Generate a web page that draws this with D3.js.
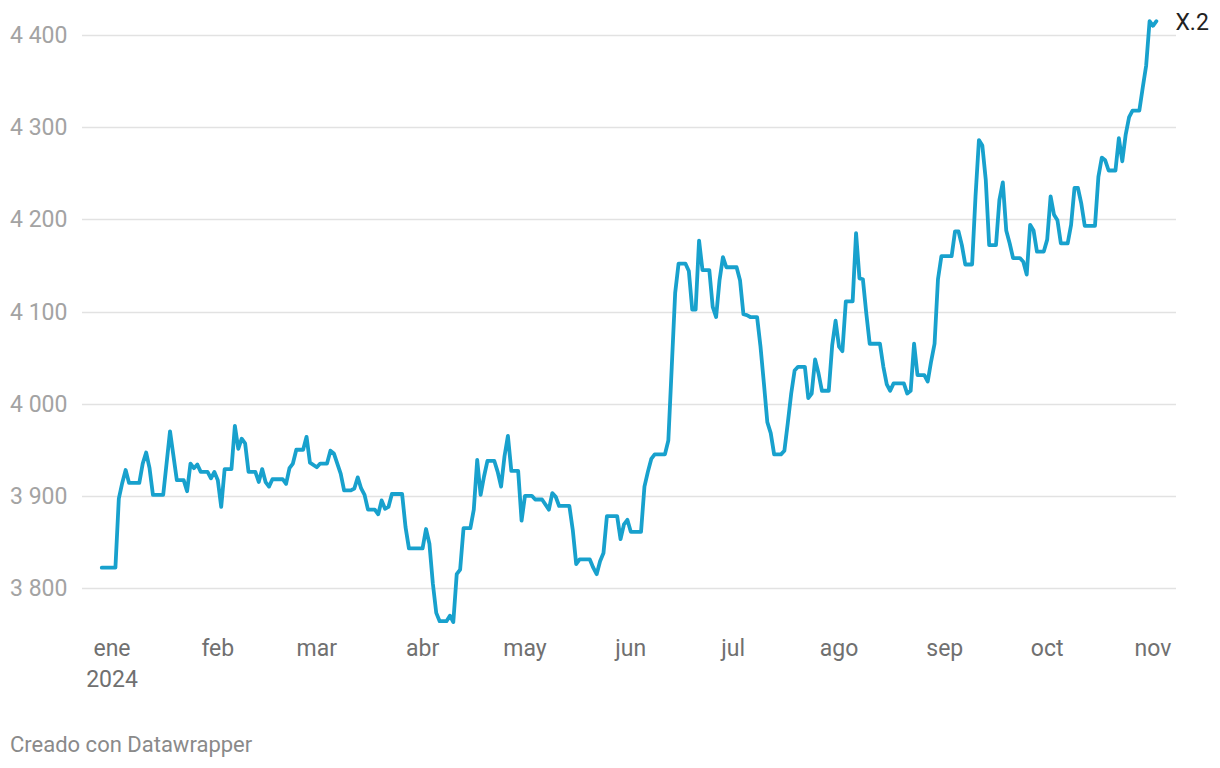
<!DOCTYPE html>
<html>
<head>
<meta charset="utf-8">
<script src="https://cdn.jsdelivr.net/npm/d3@7"></script>
<style>
  html, body { margin: 0; padding: 0; background: #ffffff; }
  svg { display: block; font-family: Roboto, "Noto Sans", sans-serif; }
</style>
</head>
<body>
<svg id="chart" width="1220" height="768"></svg>
<script>
// Days counted from 1 January 2024 (negative = late December 2023)
const daysFromJan1 = [
  -3, 1, 2, 3, 4, 5, 8, 9, 10, 11,
  12, 15, 17, 19, 21, 22, 23, 24, 25, 26,
  28, 29, 30, 31, 32, 33, 35, 36, 37, 38,
  39, 40, 42, 43, 44, 45, 46, 47, 50, 51,
  52, 53, 54, 56, 57, 58, 60, 61, 63, 64,
  65, 67, 68, 70, 71, 72, 73, 74, 75, 77,
  78, 79, 80, 81, 82, 85, 86, 87, 91, 92,
  93, 94, 95, 96, 98, 99, 100, 101, 102, 103,
  105, 106, 107, 108, 109, 110, 112, 113, 114, 115,
  116, 117, 119, 120, 121, 123, 124, 126, 128, 129,
  130, 131, 134, 135, 136, 137, 140, 141, 142, 143,
  144, 145, 148, 149, 150, 151, 152, 155, 156, 157,
  158, 159, 162, 163, 164, 165, 166, 168, 169, 170,
  171, 172, 173, 175, 176, 177, 178, 179, 180, 183,
  184, 185, 186, 187, 189, 190, 191, 192, 193, 194,
  196, 197, 198, 199, 200, 201, 203, 204, 205, 206,
  207, 208, 210, 211, 212, 213, 214, 215, 217, 218,
  219, 220, 221, 222, 225, 226, 227, 228, 229, 232,
  233, 234, 235, 236, 238, 239, 240, 241, 242, 243,
  246, 247, 248, 249, 250, 252, 253, 254, 255, 256,
  257, 259, 260, 261, 262, 263, 264, 266, 267, 268,
  269, 270, 271, 273, 274, 275, 276, 277, 278, 280,
  281, 282, 283, 284, 285, 288, 289, 290, 291, 292,
  294, 295, 296, 297, 298, 299, 301, 302, 303, 304,
  305, 306
];
const values = [
  3822, 3822, 3897, 3914, 3928, 3914, 3914, 3935, 3947, 3930,
  3901, 3901, 3970, 3917, 3917, 3905, 3935, 3930, 3934, 3926,
  3926, 3919, 3926, 3917, 3888, 3929, 3929, 3976, 3951, 3962,
  3957, 3926, 3926, 3915, 3929, 3915, 3910, 3918, 3918, 3913,
  3930, 3935, 3950, 3950, 3964, 3936, 3931, 3935, 3935, 3949,
  3946, 3924, 3906, 3906, 3908, 3920, 3908, 3901, 3885, 3885,
  3880, 3895, 3886, 3888, 3902, 3902, 3866, 3843, 3843, 3864,
  3848, 3805, 3773, 3764, 3764, 3770, 3763, 3815, 3820, 3865,
  3865, 3885, 3939, 3901, 3921, 3938, 3938, 3926, 3910, 3943,
  3965, 3927, 3927, 3873, 3900, 3900, 3896, 3896, 3885, 3903,
  3899, 3889, 3889, 3863, 3826, 3831, 3831, 3822, 3815, 3829,
  3838, 3878, 3878, 3853, 3869, 3874, 3861, 3861, 3910, 3926,
  3940, 3945, 3945, 3960, 4040, 4120, 4152, 4152, 4144, 4102,
  4102, 4177, 4145, 4145, 4105, 4094, 4134, 4159, 4148, 4148,
  4134, 4097, 4096, 4094, 4094, 4062, 4022, 3980, 3968, 3945,
  3945, 3949, 3979, 4011, 4036, 4040, 4040, 4006, 4011, 4048,
  4033, 4014, 4014, 4063, 4090, 4062, 4057, 4111, 4111, 4185,
  4136, 4135, 4098, 4065, 4065, 4040, 4021, 4014, 4022, 4022,
  4011, 4014, 4065, 4031, 4031, 4024, 4046, 4065, 4135, 4160,
  4160, 4187, 4187, 4172, 4151, 4151, 4225, 4286, 4280, 4243,
  4172, 4172, 4221, 4240, 4188, 4174, 4158, 4158, 4154, 4140,
  4194, 4188, 4165, 4165, 4178, 4225, 4205, 4199, 4174, 4174,
  4194, 4234, 4234, 4217, 4193, 4193, 4246, 4267, 4264, 4253,
  4253, 4288, 4263, 4292, 4311, 4318, 4318, 4343, 4367, 4415,
  4410, 4415
];
const yTicks = [3800, 3900, 4000, 4100, 4200, 4300, 4400];
const monthLabels = ["ene", "feb", "mar", "abr", "may", "jun", "jul", "ago", "sep", "oct", "nov"];
const yearLabel = "2024";
const seriesName = "X.2";
const creditText = "Creado con Datawrapper";

const data = daysFromJan1.map((d, i) => ({ date: new Date(2024, 0, 1 + d), value: values[i] }));

const svg = d3.select("#chart");

const x = d3.scaleTime()
  .domain([new Date(2024, 0, 1), new Date(2024, 10, 1)])
  .range([112, 1153]);
const y = d3.scaleLinear().domain([3800, 4400]).range([588, 35]);

const fmt = d3.formatLocale({ decimal: ",", thousands: " ", grouping: [3], currency: ["", ""] }).format(",");

// gridlines
svg.append("g").selectAll("line").data(yTicks).join("line")
  .attr("x1", 82).attr("x2", 1176)
  .attr("y1", d => Math.round(y(d)) + 0.5).attr("y2", d => Math.round(y(d)) + 0.5)
  .attr("stroke", "#e2e2e2").attr("stroke-width", 1.3);

// y labels
svg.append("g").selectAll("text").data(yTicks).join("text")
  .attr("x", 10).attr("y", d => y(d) + 8)
  .attr("font-size", 23).attr("fill", "#a3a3a3")
  .text(d => fmt(d));

// x labels
const months = x.ticks(d3.timeMonth.every(1));
svg.append("g").selectAll("text").data(months).join("text")
  .attr("x", d => x(d)).attr("y", 656)
  .attr("text-anchor", "middle").attr("font-size", 23).attr("fill", "#707070")
  .text(d => monthLabels[d.getMonth()]);
svg.append("text")
  .attr("x", x(new Date(2024, 0, 1))).attr("y", 687)
  .attr("text-anchor", "middle").attr("font-size", 23).attr("fill", "#707070")
  .text(yearLabel);

// line
const line = d3.line().x(d => x(d.date)).y(d => y(d.value));
svg.append("path").datum(data)
  .attr("d", line)
  .attr("fill", "none").attr("stroke", "#18a1cd")
  .attr("stroke-width", 3.8).attr("stroke-linejoin", "round").attr("stroke-linecap", "round");

// series label
const last = data[data.length - 1];
svg.append("text")
  .attr("x", x(last.date) + 19).attr("y", y(last.value) + 8.5)
  .attr("font-size", 23).attr("fill", "#222222")
  .text(seriesName);

// credit
svg.append("text")
  .attr("x", 10).attr("y", 752)
  .attr("font-size", 22).attr("fill", "#8a8a8a")
  .text(creditText);
</script>
</body>
</html>
